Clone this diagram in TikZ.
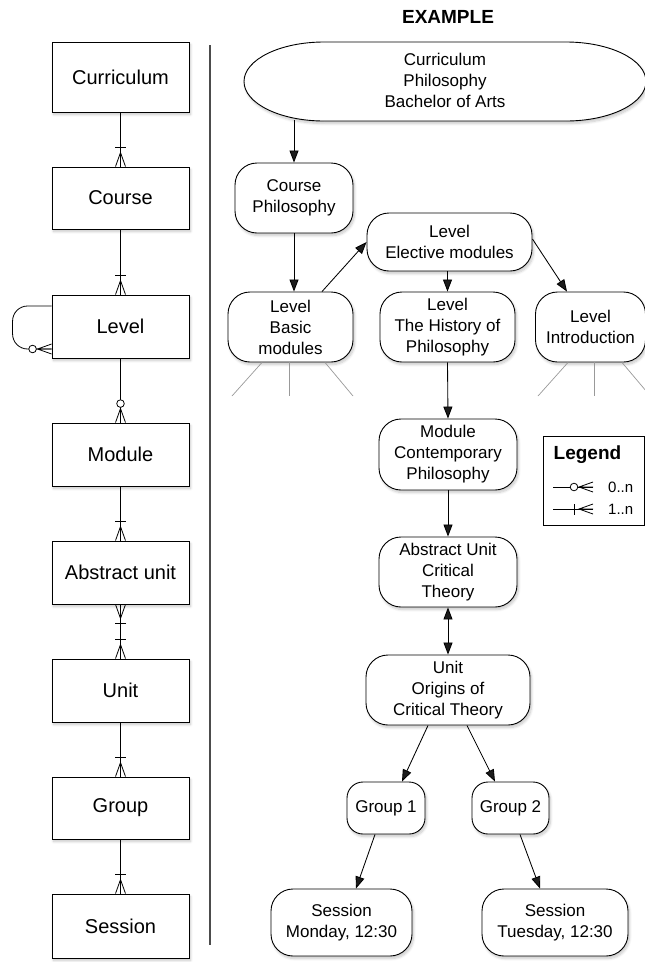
\documentclass[tikz,border=0pt]{standalone}
\usepackage{fontspec}
\setmainfont{Liberation Sans}
\usetikzlibrary{arrows.meta,shadows,shadows.blur}

\begin{document}
\begin{tikzpicture}[x=1pt,y=-1pt,
  softshadow/.style={blur shadow={shadow xshift=1.5pt,shadow yshift=-2.5pt,
      shadow blur radius=2.5pt,shadow blur steps=8,shadow opacity=22}},
  entity/.style={draw,line width=0.85pt,fill=white,minimum width=137pt,
      inner sep=0pt,font=\fontsize{20}{24}\selectfont,softshadow},
  inst/.style={draw,line width=0.9pt,fill=white,rounded corners=22pt,inner sep=0pt,
      align=center,font=\fontsize{17}{21}\selectfont,softshadow},
  erline/.style={line width=0.8pt},
  arr/.style={line width=0.85pt,-{Triangle[length=12pt,width=9pt]}},
  dblarr/.style={line width=0.85pt,{Triangle[length=12pt,width=9pt]}-{Triangle[length=12pt,width=9pt]}},
  spoke/.style={line width=0.7pt,draw=black!40},
  crowfoot/.pic={\draw[erline] (-5,0) -- (0,-14) -- (5,0) (0,0) -- (0,-14);},
  onebar/.pic={\draw[erline] (-5.5,-19) -- (5.5,-19);},
  ring/.pic={\draw[erline,fill=white] (0,-19) circle[radius=3.8pt];},
]
\useasboundingbox (0,0) rectangle (645,962);

% ---------- entity chain ----------
\node[entity,minimum height=70pt] (eCur) at (120.5,77)    {Curriculum};
\node[entity,minimum height=62pt] (eCou) at (120.5,198)   {Course};
\node[entity,minimum height=63pt] (eLev) at (120.5,326.5) {Level};
\node[entity,minimum height=63pt] (eMod) at (120.5,454.5) {Module};
\node[entity,minimum height=63pt] (eAbs) at (120.5,572.5) {Abstract unit};
\node[entity,minimum height=63pt] (eUni) at (120.5,690.5) {Unit};
\node[entity,minimum height=62pt] (eGrp) at (120.5,808)   {Group};
\node[entity,minimum height=64pt] (eSes) at (120.5,926)   {Session};

% one-to-many links
\draw[erline] (eCur.south) -- (eCou.north);
\pic at (eCou.north) {crowfoot}; \pic at (eCou.north) {onebar};
\draw[erline] (eCou.south) -- (eLev.north);
\pic at (eLev.north) {crowfoot}; \pic at (eLev.north) {onebar};
\draw[erline] (eMod.south) -- (eAbs.north);
\pic at (eAbs.north) {crowfoot}; \pic at (eAbs.north) {onebar};
\draw[erline] (eUni.south) -- (eGrp.north);
\pic at (eGrp.north) {crowfoot}; \pic at (eGrp.north) {onebar};
\draw[erline] (eGrp.south) -- (eSes.north);
\pic at (eSes.north) {crowfoot}; \pic at (eSes.north) {onebar};

% zero-to-many link
\draw[erline] (eLev.south) -- (eMod.north);
\pic at (eMod.north) {crowfoot}; \pic at (eMod.north) {ring};

% many-to-many link
\draw[erline] (eAbs.south) -- (eUni.north);
\pic at (eUni.north) {crowfoot}; \pic at (eUni.north) {onebar};
\pic[rotate=180] at (eAbs.south) {crowfoot}; \pic[rotate=180] at (eAbs.south) {onebar};

% recursive level link
\coordinate (loopA) at ([yshift=20.5pt]eLev.west);
\coordinate (loopB) at ([yshift=-22.5pt]eLev.west);
\draw[erline,rounded corners=15pt] (loopA) -- ++(-39,0) -- ++(0,43) -- (loopB);
\pic[rotate=90] at (loopB) {crowfoot}; \pic[rotate=90] at (loopB) {ring};

% ---------- separator ----------
\coordinate (divTop) at (210,45);
\coordinate (divBot) at (210,945);
\draw[line width=1.3pt,black!70] (divTop) -- (divBot);

% ---------- example ----------
\node[font=\bfseries\fontsize{19}{23}\selectfont] (title) at (448,17) {EXAMPLE};

\draw[line width=0.9pt,fill=white,softshadow] (324,42) -- (566,42)
  arc[start angle=90,end angle=-90,x radius=80pt,y radius=39.5pt] -- (324,121)
  arc[start angle=270,end angle=90,x radius=80pt,y radius=39.5pt] -- cycle;
\node[font=\fontsize{17}{21}\selectfont,align=center,inner sep=0pt,
      minimum width=402pt,minimum height=79pt] (pCur) at (445,80.5)
  {Curriculum\\Philosophy\\Bachelor of Arts};

\node[inst,minimum width=118pt,minimum height=70pt] (pCou) at (294,198) {Course\\Philosophy};
\node[inst,minimum width=165pt,minimum height=58pt] (pEle) at (449.5,242) {Level\\Elective modules};
\node[inst,minimum width=125pt,minimum height=70pt] (pBas) at (290.5,327) {Level\\Basic\\modules};
\node[inst,minimum width=135pt,minimum height=70pt] (pHis) at (447.5,327) {Level\\The History of\\Philosophy};
\node[inst,minimum width=110pt,minimum height=70pt] (pInt) at (590.5,327) {Level\\Introduction};
\node[inst,minimum width=138pt,minimum height=71pt] (pMod) at (448,454.5) {Module\\Contemporary\\Philosophy};
\node[inst,minimum width=138pt,minimum height=70pt] (pAbs) at (448,572) {Abstract Unit\\Critical\\Theory};
\node[inst,minimum width=164pt,minimum height=70pt] (pUni) at (448,690) {Unit\\Origins of\\Critical Theory};
\node[inst,rounded corners=16pt,minimum width=78pt,minimum height=52pt] (pG1) at (386,808) {Group 1};
\node[inst,rounded corners=16pt,minimum width=77pt,minimum height=52pt] (pG2) at (510.5,808) {Group 2};
\node[inst,minimum width=141pt,minimum height=67pt] (pS1) at (341.5,922.5) {Session\\Monday, 12:30};
\node[inst,minimum width=146pt,minimum height=67pt] (pS2) at (555,922.5) {Session\\Tuesday, 12:30};

% arrows
\draw[arr] (pCou.north |- pCur.south) -- (pCou.north);
\draw[arr] (pCou.south) -- (pCou.south |- pBas.north);
\draw[arr] ([xshift=31.5pt]pBas.north) -- (pEle.west);
\draw[arr] (pHis.north |- pEle.south) -- (pHis.north);
\draw[arr] ([yshift=3pt]pEle.east) -- ([xshift=-23.5pt]pInt.north);
\draw[arr] (pHis.south) -- (pMod.north);
\draw[arr] (pMod.south) -- (pAbs.north);
\draw[dblarr] (pAbs.south) -- (pUni.north);
\draw[arr] ([xshift=-20pt]pUni.south) -- ([xshift=16pt]pG1.north);
\draw[arr] ([xshift=19pt]pUni.south) -- ([xshift=-15.5pt]pG2.north);
\draw[arr] ([xshift=-11pt]pG1.south) -- ([xshift=14.5pt]pS1.north);
\draw[arr] ([xshift=9.5pt]pG2.south) -- ([xshift=-15pt]pS2.north);

% spokes hinting at further modules
\coordinate (sb1) at (232,396);
\coordinate (sb2) at (289,396);
\coordinate (sb3) at (353,396);
\coordinate (si1) at (538,396);
\coordinate (si2) at (594,396);
\coordinate (si3) at (652,398);
\draw[spoke] ([xshift=-28.5pt]pBas.south) -- (sb1);
\draw[spoke] ([xshift=-1.5pt]pBas.south) -- (sb2);
\draw[spoke] ([xshift=34.5pt]pBas.south) -- (sb3);
\draw[spoke] ([xshift=-22.5pt]pInt.south) -- (si1);
\draw[spoke] ([xshift=3.5pt]pInt.south) -- (si2);
\draw[spoke] ([xshift=31.5pt]pInt.south) -- (si3);

% ---------- legend ----------
\node[draw,line width=0.9pt,fill=white,minimum width=101.5pt,minimum height=89pt,inner sep=0pt]
  (legendBox) at (593.75,480.5) {};
\node[font=\bfseries\fontsize{19}{23}\selectfont,anchor=west,inner sep=0pt] (lgTitle) at (553.5,455) {Legend};
\coordinate (lgA1) at (553,487);
\coordinate (lgA2) at (593,487);
\coordinate (lgB1) at (553,509);
\coordinate (lgB2) at (593,509);
\draw[erline] (lgA1) -- (lgA2);
\pic[rotate=90] at (lgA2) {crowfoot}; \pic[rotate=90] at (lgA2) {ring};
\draw[erline] (lgB1) -- (lgB2);
\pic[rotate=90] at (lgB2) {crowfoot}; \pic[rotate=90] at (lgB2) {onebar};
\node[font=\fontsize{15}{18}\selectfont,anchor=west,inner sep=0pt] (lgZero) at (608,487) {0..n};
\node[font=\fontsize{15}{18}\selectfont,anchor=west,inner sep=0pt] (lgOne) at (608,509) {1..n};

\end{tikzpicture}
\end{document}
